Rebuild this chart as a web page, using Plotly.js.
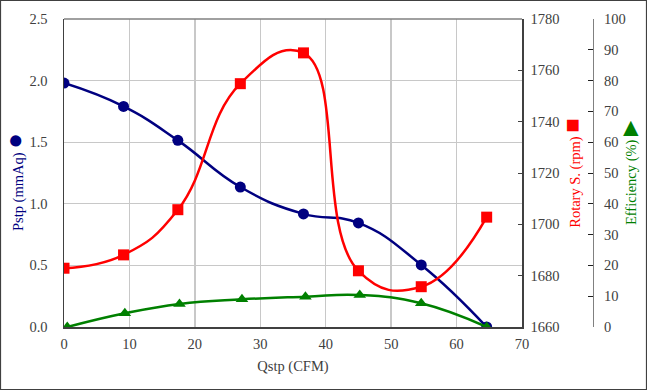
<!DOCTYPE html>
<html>
<head>
<meta charset="utf-8">
<script src="https://cdn.plot.ly/plotly-3.0.1.min.js"></script>
<style>html,body{margin:0;padding:0;background:#fff;}#chart{width:647px;height:390px;}</style>
</head>
<body>
<div id="chart"></div>
<script>
// Data
const qstp = [0, 9.1, 17.4, 26.95, 36.6, 45.0, 54.6, 64.6];
const pstp = [1.98, 1.79, 1.515, 1.136, 0.918, 0.845, 0.504, 0.0];
const rotary = [1682.9, 1688.1, 1705.7, 1754.8, 1766.8, 1681.9, 1675.7, 1702.8];
const qstpEff = [0.5, 9.3, 17.65, 27.2, 36.9, 45.2, 54.6, 64.6];
const efficiency = [0, 4.45, 7.5, 9.0, 9.85, 10.4, 7.7, 0];

const xTicks = [0, 10, 20, 30, 40, 50, 60, 70];
const pTicks = [0, 0.5, 1.0, 1.5, 2.0, 2.5];
const rTicks = [1660, 1680, 1700, 1720, 1740, 1760, 1780];
const eTicks = [0, 10, 20, 30, 40, 50, 60, 70, 80, 90, 100];

const FONT = 'Liberation Serif';
const TXT = '#404040';
const NAVY = '#000080';
const RED = '#ff0000';
const GREEN = '#008000';
const FS = 14.5;

const traces = [
  {x: qstp, y: pstp, name: 'Pstp', type: 'scatter', mode: 'lines+markers',
   line: {color: NAVY, width: 2.5, shape: 'spline', smoothing: 1.3},
   marker: {symbol: 'circle', size: 11, color: NAVY}, xaxis: 'x', yaxis: 'y'},
  {x: qstp, y: rotary, name: 'Rotary S.', type: 'scatter', mode: 'lines+markers',
   line: {color: RED, width: 2.5, shape: 'spline', smoothing: 1.3},
   marker: {symbol: 'square', size: 11, color: RED}, xaxis: 'x', yaxis: 'y2'},
  {x: qstpEff, y: efficiency, name: 'Efficiency', type: 'scatter', mode: 'lines+markers',
   line: {color: GREEN, width: 2.5, shape: 'spline', smoothing: 1.3},
   marker: {symbol: 'triangle-up', size: 11, color: GREEN}, xaxis: 'x', yaxis: 'y3'}
];

const W = 647, H = 390, ML = 64, MR = 30, MT = 19, MB = 63;
const PW = W - ML - MR, PH = H - MT - MB;

const layout = {
  width: W, height: H,
  margin: {l: ML, r: MR, t: MT, b: MB, pad: 0},
  paper_bgcolor: '#ffffff', plot_bgcolor: '#ffffff',
  showlegend: false,
  font: {family: FONT, size: FS, color: TXT},
  xaxis: {
    domain: [0, (522 - ML) / PW], range: [0, 70], tickvals: xTicks, ticktext: xTicks.map(String),
    showgrid: true, gridcolor: '#c8c8c8', gridwidth: 1.3, zeroline: false,
    showline: true, linecolor: '#404040', linewidth: 1.5, mirror: false, ticks: '',
    ticklabelstandoff: 3,
    tickfont: {family: FONT, size: FS, color: TXT},
    title: {text: 'Qstp (CFM)', font: {family: FONT, size: FS, color: TXT}, standoff: 10}
  },
  yaxis: {
    range: [0, 2.5], tickvals: pTicks, ticktext: pTicks.map(v => v.toFixed(1)),
    showgrid: true, gridcolor: '#c8c8c8', gridwidth: 1.3, zeroline: false,
    showline: true, linecolor: '#404040', linewidth: 1.5, ticks: '',
    ticklabelstandoff: 12,
    tickfont: {family: FONT, size: FS, color: TXT},
    title: {text: 'Pstp (mmAq) <span style="font-size:26px">●</span>&nbsp;&nbsp;&nbsp;&nbsp;&nbsp;', font: {family: FONT, size: FS, color: NAVY}, standoff: 6}
  },
  yaxis2: {
    overlaying: 'y', side: 'right', anchor: 'x', range: [1660, 1780], tickvals: rTicks, ticktext: rTicks.map(String),
    showgrid: false, zeroline: false, showline: true, linecolor: '#404040', linewidth: 1.5,
    ticks: 'inside', ticklen: 4, tickcolor: '#404040', ticklabelstandoff: 4,
    tickfont: {family: FONT, size: FS, color: TXT},
    title: {text: 'Rotary S. (rpm) <span style="font-size:24px">■</span>', font: {family: FONT, size: FS, color: RED}, standoff: 0}
  },
  yaxis3: {
    overlaying: 'y', side: 'right', anchor: 'free', position: (592.5 - ML) / PW, range: [0, 100],
    tickvals: eTicks, ticktext: eTicks.map(String),
    showgrid: false, zeroline: false, showline: true, linecolor: '#808080', linewidth: 1.5,
    ticks: 'inside', ticklen: 5, tickcolor: '#202020', ticklabelstandoff: 7,
    tickfont: {family: FONT, size: FS, color: TXT},
    title: {text: 'Efficiency (%) <span style="font-size:20px">▶</span>', font: {family: FONT, size: FS, color: GREEN}, standoff: 0}
  },
  shapes: [
    {type: 'line', xref: 'x', yref: 'paper', x0: 0, x1: 70, y0: 1, y1: 1, line: {color: '#808080', width: 1.5}},
    {type: 'rect', xref: 'paper', yref: 'paper',
     x0: (0.5 - ML) / PW, x1: (W - 0.5 - ML) / PW, y0: -(MB - 0.5) / PH, y1: 1 + (MT - 0.5) / PH,
     line: {color: '#404040', width: 1.2}, fillcolor: 'rgba(0,0,0,0)'}
  ]
};

Plotly.newPlot('chart', traces, layout, {displayModeBar: false, staticPlot: true});
</script>
</body>
</html>
